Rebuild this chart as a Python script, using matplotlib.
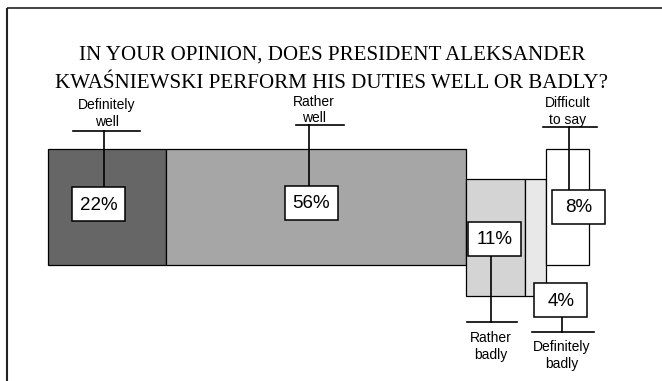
import matplotlib
matplotlib.use("Agg")
import matplotlib.pyplot as plt
from matplotlib.patches import Rectangle

# Survey answers, in the order they are stacked from left to right
categories = ["Definitely\nwell", "Rather\nwell", "Rather\nbadly", "Definitely\nbadly", "Difficult\nto say"]
shares = [22, 56, 11, 4, 8]
value_labels = ["22%", "56%", "11%", "4%", "8%"]
colors = ["#666666", "#a6a6a6", "#d4d4d4", "#e8e8e8", "#ffffff"]

title_lines = ["IN YOUR OPINION, DOES PRESIDENT ALEKSANDER",
               "KWAŚNIEWSKI PERFORM HIS DUTIES WELL OR BADLY?"]

W, H = 662, 381
PX = 5.36          # pixels per percentage point
X0 = 48            # pixel position of 0 %


def px(x):
    """Horizontal pixel position -> percentage-axis coordinate."""
    return (x - X0) / PX


fig = plt.figure(figsize=(W / 100, H / 100), dpi=100)
ax = fig.add_axes([0, 0, 1, 1])
ax.set_xlim(px(0), px(W))
ax.set_ylim(H, 0)
ax.axis("off")

# bar band top/height (vertical in pixel units); negative answers sit lower
band_top = [149, 149, 179, 179, 149]
band_h = [116, 116, 117, 117, 116]

lefts = []
acc = 0
for v in shares:
    lefts.append(acc)
    acc += v

ax.bar(lefts, band_h, width=shares, bottom=band_top, align="edge",
       color=colors, edgecolor="black", linewidth=0.9, zorder=2)

# label layout: offsets (px) from the segment centre
layout = [
    dict(ldx=-3, bdx=-8.5, by=204, ly=131, hw=33.5, t1=105, t2=122, tdx=0, hdx=-0.5),
    dict(ldx=-7, bdx=-4.5, by=203, ly=125, hw=24, t1=102, t2=118, tdx=-2, hdx=4),
    dict(ldx=-4.6, bdx=-1, by=238.5, ly=322, hw=25, t1=338, t2=355, tdx=-4.6, hdx=-4),
    dict(ldx=26, bdx=25, by=300, ly=332, hw=31, t1=347, t2=364, tdx=26, hdx=27),
    dict(ldx=1, bdx=11, by=207, ly=127, hw=27, t1=103, t2=120, tdx=0, hdx=2),
]
BOX_W, BOX_H = 53, 34

for left, v, lab, cat, L in zip(lefts, shares, value_labels, categories, layout):
    c = left + v / 2
    lx = c + L["ldx"] / PX
    box_top = L["by"] - BOX_H / 2
    box_bot = L["by"] + BOX_H / 2
    # vertical leader from the category bar to the value box
    if L["ly"] < box_top:
        ax.plot([lx, lx], [L["ly"], box_top], color="black", lw=1.2, zorder=3)
    else:
        ax.plot([lx, lx], [box_bot, L["ly"]], color="black", lw=1.2, zorder=3)
    # horizontal bar under/over the category name
    hc = c + L["hdx"] / PX
    ax.plot([hc - L["hw"] / PX, hc + L["hw"] / PX], [L["ly"], L["ly"]],
            color="black", lw=1.2, zorder=3)
    # value box
    bx = c + L["bdx"] / PX
    ax.add_patch(Rectangle((bx - BOX_W / 2 / PX, box_top), BOX_W / PX, BOX_H,
                           facecolor="white", edgecolor="black", lw=1.1, zorder=4))
    ax.text(bx, L["by"] + 1, lab, ha="center", va="center", fontsize=13.5,
            family="Liberation Sans", zorder=5)
    # category name (two lines)
    l1, l2 = cat.split("\n")
    tx = c + L["tdx"] / PX
    ax.text(tx, L["t1"], l1, ha="center", va="center", fontsize=10,
            family="Liberation Sans", zorder=5)
    ax.text(tx, L["t2"], l2, ha="center", va="center", fontsize=10,
            family="Liberation Sans", zorder=5)

# title
for y, line in zip([55, 84], title_lines):
    ax.text(px(332), y, line, ha="center", va="center", fontsize=15.1,
            family="Liberation Serif")

# frame lines along the top and left
ax.plot([px(7), px(W)], [8, 8], color="#333333", lw=1.3,
        solid_capstyle="butt", clip_on=False)
ax.plot([px(7), px(7)], [8, H], color="#222222", lw=1.5,
        solid_capstyle="butt", clip_on=False)

fig.savefig("out.png", dpi=100)
